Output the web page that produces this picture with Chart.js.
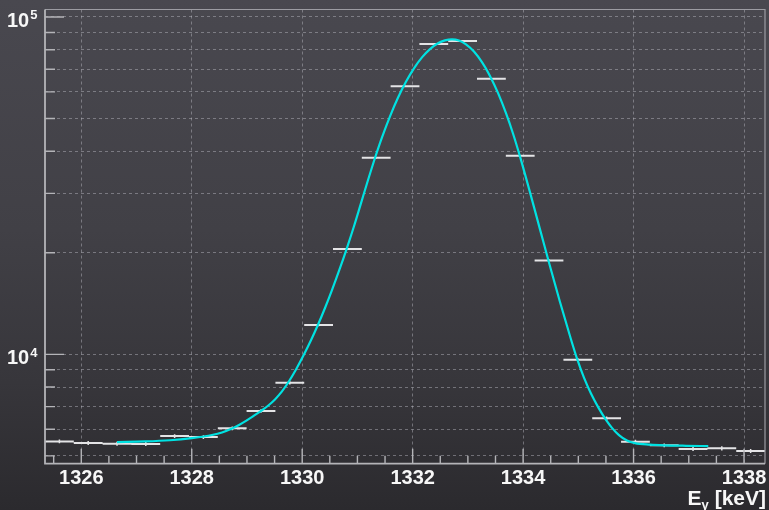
<!DOCTYPE html>
<html>
<head>
<meta charset="utf-8">
<script src="https://cdn.jsdelivr.net/npm/chart.js@4.4.1/dist/chart.umd.min.js"></script>
<style>
  html, body { margin: 0; padding: 0; width: 769px; height: 510px; overflow: hidden;
    background: linear-gradient(180deg, #49484f 0%, #414046 45%, #37363b 75%, #2b2a2e 100%); }
  #wrap { position: relative; width: 769px; height: 510px; }
  canvas { display: block; }
</style>
</head>
<body>
<div id="wrap"><canvas id="c" width="769" height="510"></canvas></div>
<script>
// ---- Histogram bins (E_gamma in keV, counts) ----
const binCenters = [1325.604, 1326.125, 1326.647, 1327.168, 1327.690, 1328.211, 1328.733, 1329.254,
  1329.776, 1330.297, 1330.819, 1331.340, 1331.862, 1332.383, 1332.905, 1333.426, 1333.948,
  1334.469, 1334.991, 1335.512, 1336.034, 1336.555, 1337.077, 1337.598, 1338.120];
const binCounts = [5521, 5458, 5433, 5425, 5725, 5686, 6034, 6790, 8236, 12216, 20527, 38270,
  62320, 83180, 84900, 65630, 38800, 18990, 9632, 6460, 5507, 5373, 5239, 5264, 5168];
const binErrors = [74, 74, 74, 74, 76, 75, 78, 82, 91, 111, 143, 196, 250, 288, 291, 256, 197,
  138, 98, 80, 74, 73, 72, 73, 72];
const binHalfWidth = 0.26075;

// ---- Fit curve, points ----
const fitX = [1326.647, 1327.154, 1327.606, 1328.005, 1328.186, 1328.367, 1328.548, 1328.729,
  1328.856, 1328.982, 1329.109, 1329.245, 1329.381, 1329.507, 1329.634, 1329.761, 1329.888,
  1330.032, 1330.159, 1330.286, 1330.413, 1330.539, 1330.684, 1330.811, 1330.938, 1331.064,
  1331.191, 1331.318, 1331.445, 1331.590, 1331.734, 1331.879, 1332.024, 1332.169, 1332.314,
  1332.459, 1332.585, 1332.712, 1332.839, 1332.966, 1333.110, 1333.255, 1333.400, 1333.545,
  1333.690, 1333.817, 1333.943, 1334.124, 1334.306, 1334.487, 1334.668, 1334.849, 1334.975,
  1335.102, 1335.229, 1335.356, 1335.495, 1335.609, 1335.736, 1335.881, 1336.026, 1336.297,
  1336.551, 1336.949, 1337.353];
const fitY = [5495, 5518, 5563, 5644, 5698, 5765, 5868, 6028,
  6178, 6353, 6551, 6779, 7040, 7350, 7765, 8321, 9021,
  9986, 11010, 12239, 13722, 15503, 18000, 20692, 23975, 28032,
  32825, 38196, 43967, 50770, 57640, 64300, 70450, 75900, 80330,
  83570, 85240, 85820, 85130, 82950, 78960, 73450, 66900, 59560,
  51860, 45150, 38620, 30260, 23470, 18240, 14300, 11330, 9724,
  8528, 7652, 6988, 6417, 6055, 5765, 5555, 5457, 5401,
  5376, 5358, 5347];

// ---- Axes ----
const xRange = [1325.343, 1338.38];
const yRange = [4741, 105250];
const xMajorTicks = [1326, 1328, 1330, 1332, 1334, 1336, 1338];
const xMinorTicks = [1325.5, 1326.5, 1327, 1327.5, 1328.5, 1329, 1329.5, 1330.5, 1331, 1331.5,
  1332.5, 1333, 1333.5, 1334.5, 1335, 1335.5, 1336.5, 1337, 1337.5];
const yMajorTicks = [10000, 100000];
const yMinorTicks = [5000, 6000, 7000, 8000, 9000, 20000, 30000, 40000, 50000, 60000, 70000, 80000, 90000];
const xTitleMain = 'E';
const xTitleSub = 'γ';
const xTitleUnit = ' [keV]';

// ---- build datasets ----
const barData = [];
const errData = [];
binCenters.forEach((c, i) => {
  barData.push({x: c - binHalfWidth, y: binCounts[i]}, {x: c + binHalfWidth, y: binCounts[i]}, {x: c + binHalfWidth, y: null});
  errData.push({x: c, y: binCounts[i] - binErrors[i]}, {x: c, y: binCounts[i] + binErrors[i]}, {x: c, y: null});
});
const fitData = fitX.map((x, i) => ({x, y: fitY[i]}));

const axisColor = '#b4b4b8';
const gridColor = 'rgba(190,190,200,0.45)';
const FONT = '"Liberation Sans", Arial, Helvetica, sans-serif';

const decor = {
  id: 'decor',
  afterDatasetsDraw(chart) {
    const {ctx, chartArea: a, scales: {x, y}} = chart;
    ctx.save();
    // frame
    ctx.strokeStyle = '#9c9ca2';
    ctx.lineWidth = 1.2;
    ctx.beginPath();
    ctx.moveTo(a.left, a.top); ctx.lineTo(a.right, a.top); ctx.lineTo(a.right, a.bottom);
    ctx.stroke();
    ctx.strokeStyle = axisColor;
    ctx.lineWidth = 1.8;
    ctx.beginPath();
    ctx.moveTo(a.left, a.top); ctx.lineTo(a.left, a.bottom); ctx.lineTo(a.right, a.bottom);
    ctx.stroke();
    // ticks
    ctx.lineWidth = 1.4;
    ctx.beginPath();
    xMinorTicks.forEach(v => { const p = x.getPixelForValue(v); ctx.moveTo(p, a.bottom); ctx.lineTo(p, a.bottom - 8); });
    xMajorTicks.forEach(v => { const p = x.getPixelForValue(v); ctx.moveTo(p, a.bottom); ctx.lineTo(p, a.bottom - 15); });
    yMinorTicks.forEach(v => { const p = y.getPixelForValue(v); ctx.moveTo(a.left, p); ctx.lineTo(a.left + 10, p); });
    yMajorTicks.forEach(v => { const p = y.getPixelForValue(v); ctx.moveTo(a.left, p); ctx.lineTo(a.left + 19, p); });
    ctx.stroke();
    // x labels
    ctx.fillStyle = '#f7f7f7';
    ctx.font = 'bold 20px ' + FONT;
    ctx.textAlign = 'center';
    ctx.textBaseline = 'alphabetic';
    xMajorTicks.forEach(v => ctx.fillText(String(v), x.getPixelForValue(v), 484));
    // y labels 10^n
    ctx.textAlign = 'left';
    yMajorTicks.forEach(v => {
      const p = y.getPixelForValue(v);
      ctx.font = 'bold 20px ' + FONT;
      ctx.fillText('10', 7, p + 10);
      const w = ctx.measureText('10').width;
      ctx.font = 'bold 13px ' + FONT;
      ctx.fillText(String(Math.round(Math.log10(v))), 7 + w + 1, p + 2.5);
    });
    // x title
    ctx.font = 'bold 21px ' + FONT;
    const w1 = ctx.measureText(xTitleMain).width;
    const w3 = ctx.measureText(xTitleUnit).width;
    ctx.font = 'bold 13px ' + FONT;
    const w2 = ctx.measureText(xTitleSub).width;
    const x0 = 766 - (w1 + w2 + w3);
    ctx.font = 'bold 21px ' + FONT;
    ctx.fillText(xTitleMain, x0, 505);
    ctx.fillText(xTitleUnit, x0 + w1 + w2, 505);
    ctx.font = 'bold 13px ' + FONT;
    ctx.fillText(xTitleSub, x0 + w1, 509);
    ctx.restore();
  }
};

new Chart(document.getElementById('c'), {
  type: 'line',
  data: {
    datasets: [
      { label: 'fit', data: fitData, borderColor: '#00e2e2', borderWidth: 2.2, pointRadius: 0,
        cubicInterpolationMode: 'monotone', fill: false, order: 0 },
      { label: 'hist', data: barData, borderColor: '#e4e4e6', borderWidth: 2, pointRadius: 0,
        tension: 0, spanGaps: false, fill: false, order: 1 },
      { label: 'err', data: errData, borderColor: '#e4e4e6', borderWidth: 1.5, pointRadius: 0,
        tension: 0, spanGaps: false, fill: false, order: 2 }
    ]
  },
  options: {
    responsive: false,
    animation: false,
    devicePixelRatio: 1,
    layout: { padding: { left: 45, right: 4, top: 9.5, bottom: 46.3 } },
    plugins: { legend: { display: false }, tooltip: { enabled: false } },
    scales: {
      x: {
        type: 'linear', min: xRange[0], max: xRange[1], bounds: 'data',
        ticks: { display: false },
        afterBuildTicks: s => { s.ticks = xMajorTicks.map(v => ({value: v})); },
        grid: { color: gridColor, lineWidth: 1, drawTicks: false },
        border: { display: false, dash: [3, 3] }
      },
      y: {
        type: 'logarithmic', min: yRange[0], max: yRange[1], bounds: 'data',
        ticks: { display: false },
        afterBuildTicks: s => { s.ticks = yMinorTicks.concat(yMajorTicks).sort((a, b) => a - b).map(v => ({value: v})); },
        grid: { color: gridColor, lineWidth: 1, drawTicks: false },
        border: { display: false, dash: [3, 3] }
      }
    }
  },
  plugins: [decor]
});
</script>
</body>
</html>
